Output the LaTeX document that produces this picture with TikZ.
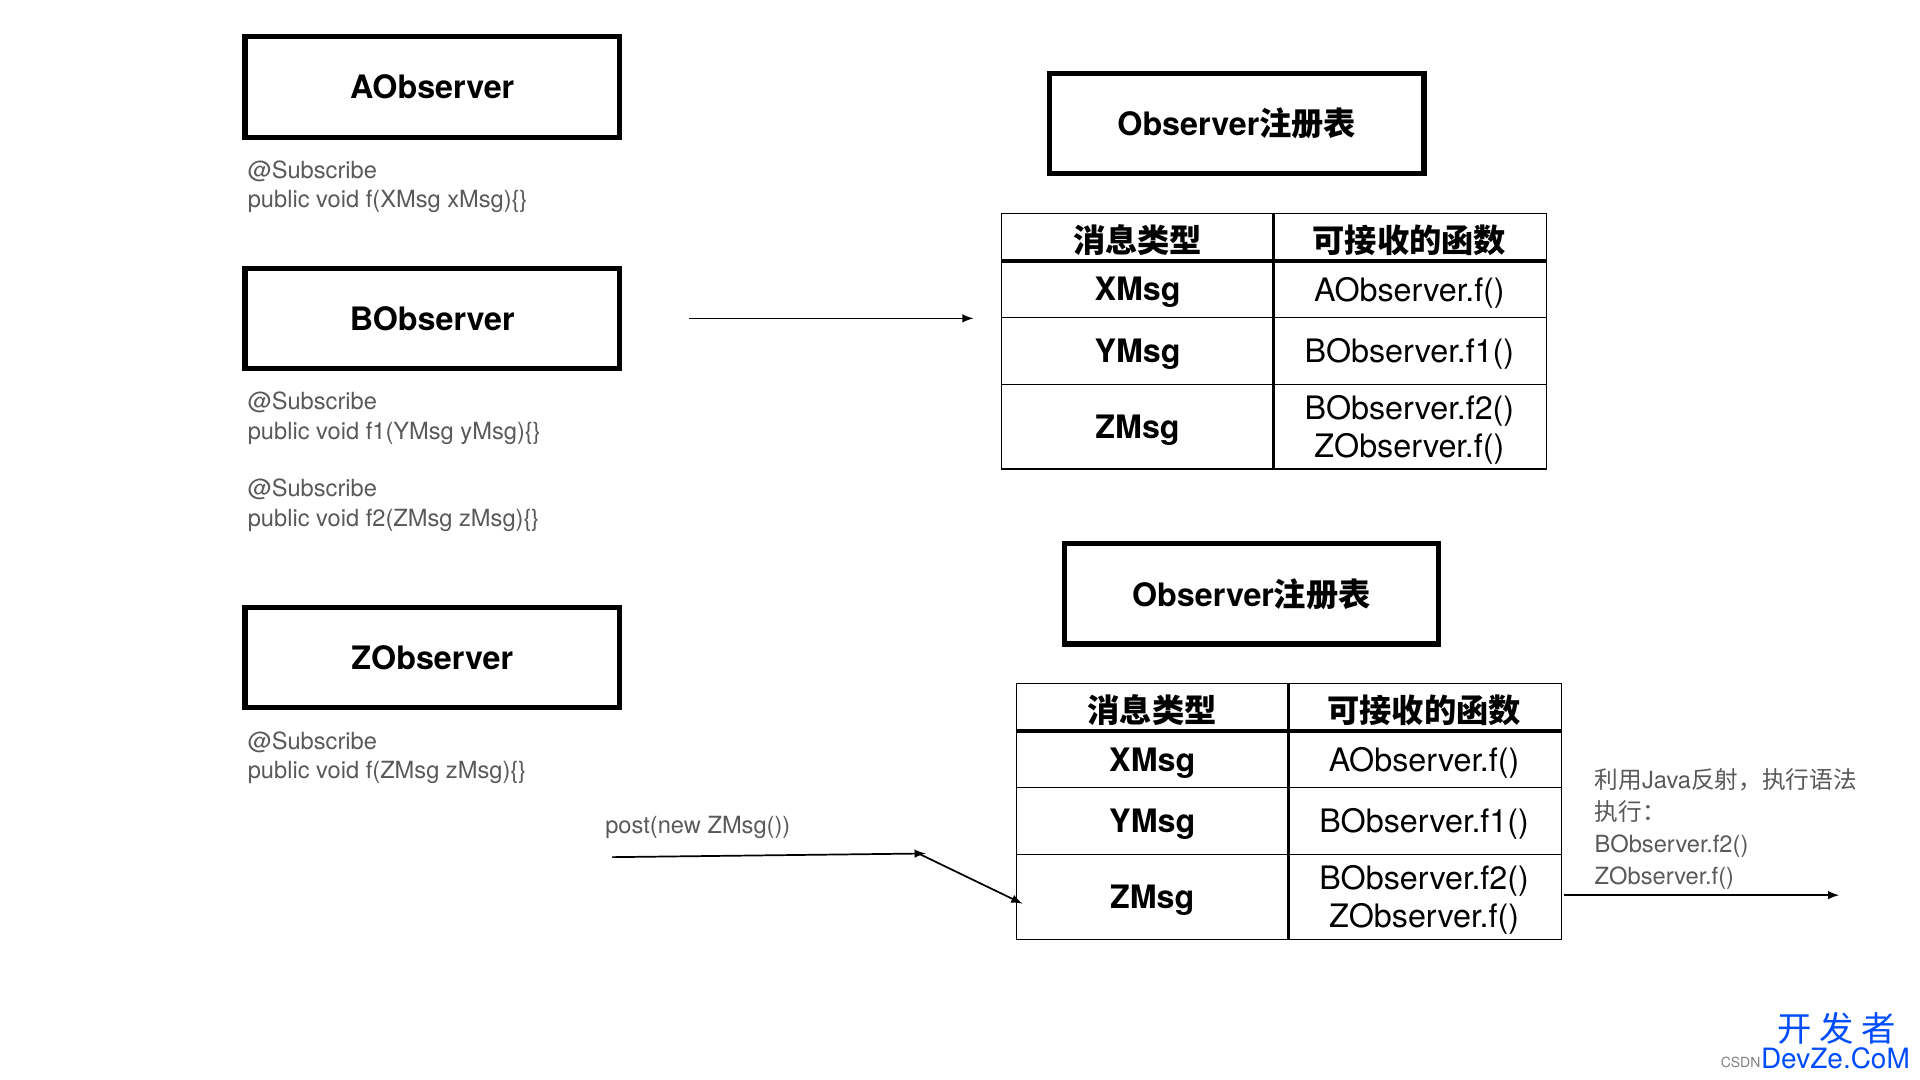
\documentclass[tikz,border=0pt]{standalone}
\usepackage{fontspec}
\setmainfont{TeX Gyre Heros}
\newfontfamily\cjk{Noto Sans CJK SC}
\begin{document}
\begin{tikzpicture}[x=0.02cm,y=-0.02cm,
  box/.style={draw,line width=2.4pt,minimum width=6.12cm,minimum height=1.64cm,font=\fontsize{15}{18}\selectfont\bfseries},
  note/.style={anchor=north west,align=left,text=black!65,font=\fontsize{11}{13.6}\selectfont,inner sep=0pt},
  cell/.style={font=\fontsize{15}{18}\selectfont},
  arr/.style={-latex,line width=0.8pt}]
\useasboundingbox (0,0) rectangle (1568,882);
\node[box] (A) at (353,71) {AObserver};
\node[box] (B) at (353,260) {BObserver};
\node[box] (Z) at (353,537) {ZObserver};
\node[box] (R1) at (1010,101) {Observer{\cjk 注册表}};
\node[box] (R2) at (1022,485) {Observer{\cjk 注册表}};
\node[note] (na) at (202,131) {@Subscribe\\public void f(XMsg xMsg)\{\}};
\node[note] (nb) at (202,320) {@Subscribe\\public void f1(YMsg yMsg)\{\}};
\node[note] (nb2) at (202,391) {@Subscribe\\public void f2(ZMsg zMsg)\{\}};
\node[note] (nz) at (202,597) {@Subscribe\\public void f(ZMsg zMsg)\{\}};
\node[note] (post) at (494,666) {post(new ZMsg())};
\node[note,font=\fontsize{11}{15}\selectfont] (refl) at (1302,627) {{\cjk 利用}Java{\cjk 反射，执行语法}\\{\cjk 执行：}\\BObserver.f2()\\ZObserver.f()};
\foreach \dx/\dy/\t in {0/0/a,12/384/b}{
 \begin{scope}[shift={(\dx,\dy)}]
 \draw[line width=0.5pt] (818,174) rectangle (1263,383);
 \draw[line width=1.6pt] (818,213) -- (1263,213);
 \draw[line width=0.5pt] (818,259) -- (1263,259) (818,314) -- (1263,314);
 \draw[line width=1.4pt] (1040,174) -- (1040,383);
 \node[cell,font=\fontsize{15}{18}\selectfont\bfseries\cjk] (h1\t) at (929,196) {消息类型};
 \node[cell,font=\fontsize{15}{18}\selectfont\bfseries\cjk] (h2\t) at (1151,196) {可接收的函数};
 \node[cell,font=\fontsize{15}{18}\selectfont\bfseries] (x\t) at (929,239) {XMsg};
 \node[cell,font=\fontsize{15}{18}\selectfont\bfseries] (y\t) at (929,289) {YMsg};
 \node[cell,font=\fontsize{15}{18}\selectfont\bfseries] (z\t) at (929,351) {ZMsg};
 \node[cell] (fx\t) at (1151,239) {AObserver.f()};
 \node[cell] (fy\t) at (1151,289) {BObserver.f1()};
 \node[cell,align=center,font=\fontsize{15}{17.5}\selectfont] (fz\t) at (1151,351) {BObserver.f2()\\ZObserver.f()};
 \end{scope}}
\coordinate (a1) at (563,260); \coordinate (a2) at (795,260);
\draw[arr] (a1) -- (a2);
\coordinate (p1) at (500,700); \coordinate (p2) at (756,697);
\coordinate (p3) at (750,697); \coordinate (p4) at (835,738);
\draw[arr] (p1) -- (p2);
\draw[arr] (p3) -- (p4);
\coordinate (o1) at (1277,731); \coordinate (o2) at (1502,731);
\draw[arr] (o1) -- (o2);
\node[text=blue!70!cyan,font=\fontsize{16}{16}\selectfont\cjk] (w1) at (1500,840) {开 发 者};
\node[text=blue!70!cyan,font=\fontsize{13}{13}\selectfont,anchor=east,inner sep=0pt] (w2) at (1560,864) {DevZe.CoM};
\node[text=black!50,font=\fontsize{6.5}{7}\selectfont,anchor=east,inner sep=0pt] (w3) at (1438,868) {CSDN};
\end{tikzpicture}
\end{document}
